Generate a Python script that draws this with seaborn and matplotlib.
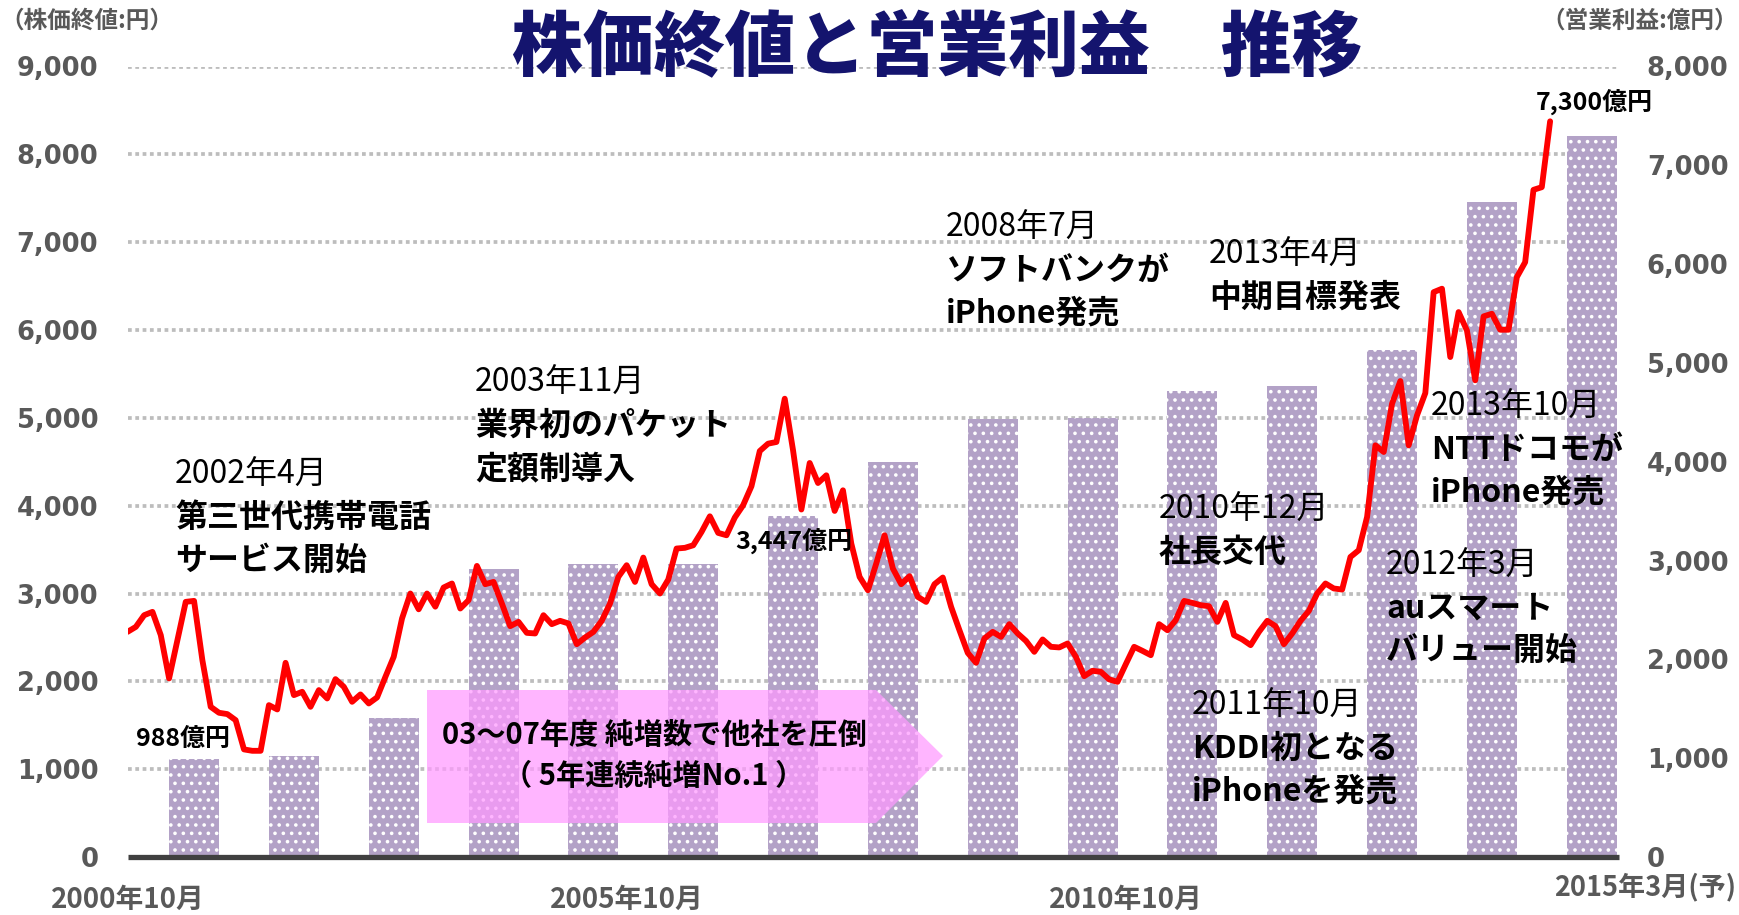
import matplotlib
matplotlib.use("Agg")
import matplotlib.pyplot as plt
import seaborn as sns
import numpy as np
import pandas as pd
from matplotlib.patches import Polygon

# ---------------- data ----------------
fiscal_years = list(range(2000, 2015))          # FY2000 .. FY2014(予)
operating_profit = [988, 1021, 1405, 2919, 2963, 2963, 3447, 3997,
                    4432, 4439, 4718, 4765, 5127, 6633, 7300]   # 億円

price_start = "2000-10"                          # monthly closes from Oct 2000
stock_price = [
    2563, 2620, 2753, 2791, 2526, 2033, 2469, 2905, 2916, 2241, 1710, 1642,
    1627, 1558, 1225, 1209, 1209, 1729, 1680, 2211, 1843, 1881, 1710, 1900,
    1805, 2025, 1938, 1767, 1851, 1748, 1817, 2051, 2279, 2716, 3000, 2820,
    3000, 2850, 3068, 3114, 2829, 2924, 3314, 3106, 3132, 2886, 2628, 2677,
    2552, 2545, 2753, 2651, 2689, 2659, 2423, 2499, 2563, 2689, 2886, 3189,
    3322, 3132, 3409, 3106, 3000, 3159, 3512, 3520, 3549, 3701, 3879, 3690,
    3663, 3865, 4005, 4221, 4622, 4706, 4725, 5218, 4630, 3956, 4486, 4258,
    4346, 3940, 4175, 3569, 3189, 3037, 3341, 3663, 3284, 3106, 3197, 2961,
    2904, 3106, 3182, 2848, 2582, 2324, 2211, 2488, 2563, 2506, 2651, 2545,
    2460, 2336, 2477, 2393, 2386, 2431, 2279, 2059, 2120, 2108, 2022, 1994,
    2196, 2393, 2347, 2298, 2651, 2582, 2696, 2916, 2893, 2867, 2855, 2677,
    2893, 2526, 2477, 2412, 2563, 2689, 2628, 2423, 2545, 2689, 2802, 3000,
    3114, 3057, 3045, 3416, 3493, 3872, 4687, 4611, 5161, 5419, 4687, 5028,
    5282, 6431, 6470, 5692, 6204, 5995, 5427, 6155, 6185, 6003, 6003, 6602,
    6772, 7596, 7626, 8376,
]

price_ticks = list(range(0, 9001, 1000))
profit_ticks = list(range(0, 8001, 1000))
x_tick_dates = [2000.75, 2005.75, 2010.75]
x_tick_labels = ["2000年10月", "2005年10月", "2010年10月"]
last_label = "2015年3月(予)"

title = "株価終値と営業利益　推移"
left_title = "（株価終値:円）"
right_title = "（営業利益:億円）"

value_labels = [("988億円", 136, 739), ("3,447億円", 735, 541), ("7,300億円", 1536, 102)]

events = [
    ("2002年4月", ["第三世代携帯電話", "サービス開始"], 175, 475),
    ("2003年11月", ["業界初のパケット", "定額制導入"], 475, 383),
    ("2008年7月", ["ソフトバンクが", "iPhone発売"], 946, 228),
    ("2013年4月", ["中期目標発表"], 1209, 255),
    ("2010年12月", ["社長交代"], 1159, 510),
    ("2013年10月", ["NTTドコモが", "iPhone発売"], 1431, 407),
    ("2012年3月", ["auスマート", "バリュー開始"], 1386, 566),
    ("2011年10月", ["KDDI初となる", "iPhoneを発売"], 1192, 706),
]
arrow_lines = ["03～07年度 純増数で他社を圧倒", "（ 5年連続純増No.1 ）"]

# ---------------- derived frames ----------------
dates = pd.date_range(price_start, periods=len(stock_price), freq="MS")
line_df = pd.DataFrame({"t": dates.year + (dates.month - 1) / 12, "price": stock_price})
bar_df = pd.DataFrame({"t": [fy + 1 + 5 / 12 for fy in fiscal_years], "profit": operating_profit})

# ---------------- style ----------------
sns.set_style("white")
plt.rcParams["font.family"] = ["Noto Sans CJK JP", "DejaVu Sans"]
plt.rcParams["hatch.color"] = "white"
plt.rcParams["hatch.linewidth"] = 1.4

W, H = 1739, 915
GRAY = "#595959"
BAR = "#B3A2C7"

fig = plt.figure(figsize=(W / 100, H / 100), dpi=100)
ax = fig.add_axes([127.5 / W, 58 / H, (1619 - 127.5) / W, (857 - 66.5) / H])

# bars (operating profit, right scale)
sns.barplot(data=bar_df, x="t", y="profit", native_scale=True, width=0.5,
            color=BAR, saturation=1, hatch="..", edgecolor="white", linewidth=0,
            errorbar=None, ax=ax, zorder=2)
ax.set_ylim(0, 8000)

# grid lines follow the price (left) scale
for v in price_ticks[1:]:
    ax.axhline(v * 8000 / 9000, color="#BDBDBD", lw=2.7, ls=(0, (1, 0.95)), zorder=1)

ax2 = ax.twinx()
sns.lineplot(data=line_df, x="t", y="price", ax=ax2, color="#FF0000",
             linewidth=4.2, zorder=3)
ax2.set_ylim(0, 9000)
ax.set_xlim(2000.75, 2015.69)

# y axes: price left, profit right
ax2.yaxis.tick_left()
ax.yaxis.tick_right()
ax2.set_yticks(price_ticks, labels=[f"{v:,}" for v in price_ticks],
               fontsize=18.5, fontweight="bold", color=GRAY, family="DejaVu Sans")
ax.set_yticks(profit_ticks, labels=[f"{v:,}" for v in profit_ticks],
              fontsize=18.5, fontweight="bold", color=GRAY, family="DejaVu Sans")
ax2.tick_params(axis="y", length=0, pad=21)
ax.tick_params(axis="y", length=0, pad=20)

ax.set_xticks(x_tick_dates, labels=x_tick_labels, fontsize=20,
              fontweight="bold", color=GRAY)
ax.tick_params(axis="x", length=7, width=3.6, color="#404040", direction="out", pad=14)

for a in (ax, ax2):
    a.set_xlabel("")
    a.set_ylabel("")
    for s in a.spines.values():
        s.set_visible(False)
ax.spines["bottom"].set_visible(True)
ax.spines["bottom"].set_color("#404040")
ax.spines["bottom"].set_linewidth(3.8)
ax.spines["bottom"].set_capstyle("butt")


def ftext(x, y, s, **kw):
    kw.setdefault("va", "center")
    return fig.text(x / W, 1 - y / H, s, **kw)


# pink arrow
arrow_px = [(427, 690), (876, 690), (943, 756), (876, 823), (427, 823)]
fig.patches.append(Polygon([(x / W, 1 - y / H) for x, y in arrow_px],
                           closed=True, transform=fig.transFigure,
                           facecolor="#FF99FF", edgecolor="none", alpha=0.72, zorder=1))
ftext(654, 735, arrow_lines[0], ha="center", fontsize=21, fontweight="bold", color="black")
ftext(654, 776, arrow_lines[1], ha="center", fontsize=21, fontweight="bold", color="black")

# titles
ftext(937, 50, title, ha="center", fontsize=51, fontweight="heavy", color="#14146E")
ftext(0, 21, left_title, ha="left", fontsize=17, fontweight="bold", color=GRAY)
ftext(W - 1, 21, right_title, ha="right", fontsize=17, fontweight="bold", color=GRAY)
ftext(1736, 887, last_label, ha="right", fontsize=19.5, fontweight="bold", color=GRAY)

for s, x, y in value_labels:
    ftext(x, y, s, ha="left", fontsize=18, fontweight="bold", color="black")

for date, lines, x, y in events:
    ftext(x, y, date, ha="left", fontsize=23, color="black")
    for i, ln in enumerate(lines):
        ftext(x, y + 43 * (i + 1), ln, ha="left", fontsize=23, fontweight="bold", color="black")

fig.savefig("out.png", dpi=100)
